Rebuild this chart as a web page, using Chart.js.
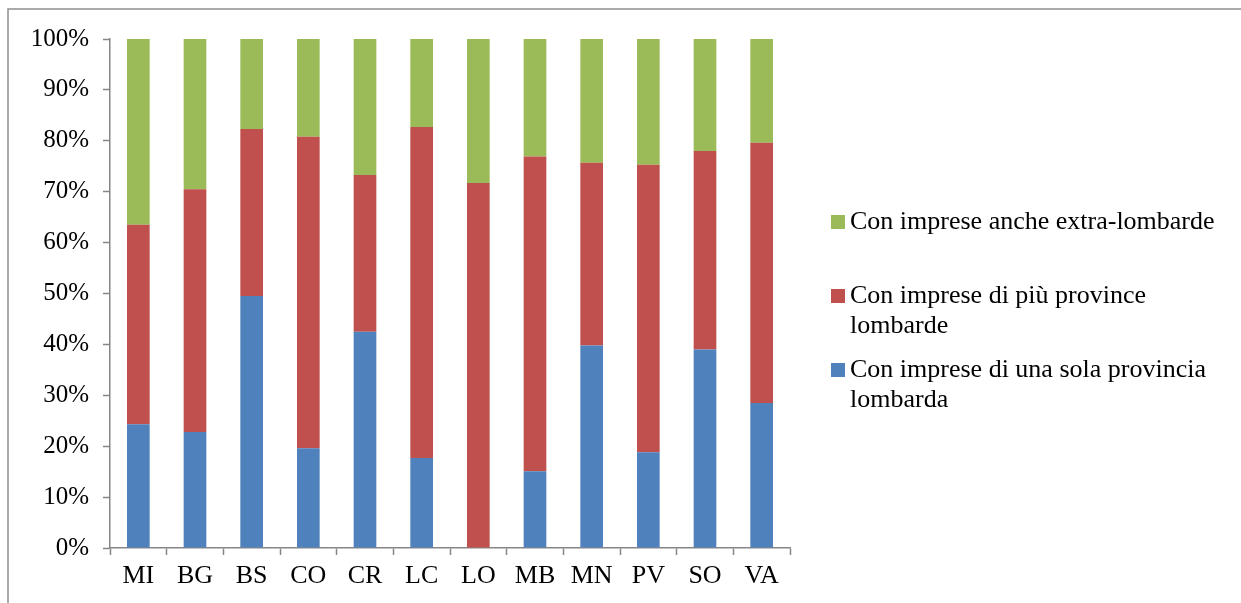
<!DOCTYPE html>
<html>
<head>
<meta charset="utf-8">
<script src="https://cdn.jsdelivr.net/npm/chart.js@4.4.1/dist/chart.umd.min.js"></script>
<style>
  html, body { margin: 0; padding: 0; background: #ffffff; }
  #wrap { width: 1241px; height: 603px; position: relative; }
</style>
</head>
<body>
<div id="wrap"><canvas id="chart" width="1241" height="603"></canvas></div>
<script>
// Province codes (x axis)
const province = ['MI', 'BG', 'BS', 'CO', 'CR', 'LC', 'LO', 'MB', 'MN', 'PV', 'SO', 'VA'];

// Shares (%) of each group, stacked bottom to top
const unaSola   = [24.3, 22.8, 49.5, 19.6, 42.5, 17.7, 0.0, 15.1, 39.8, 18.8, 39.0, 28.5];
const piuProv   = [39.2, 47.7, 32.8, 61.2, 30.8, 65.0, 71.7, 61.8, 35.9, 56.5, 39.0, 51.1];
const extraLomb = [36.5, 29.5, 17.7, 19.2, 26.7, 17.3, 28.3, 23.1, 24.3, 24.7, 22.0, 20.4];

// Legend text, split into the lines it is printed on
const labelUnaSola   = ['Con imprese di una sola provincia', 'lombarda'];
const labelPiuProv   = ['Con imprese di più province', 'lombarde'];
const labelExtraLomb = ['Con imprese anche extra-lombarde'];

// Y axis tick values
const yTicks = [0, 10, 20, 30, 40, 50, 60, 70, 80, 90, 100];

const FONT = '"Liberation Serif", "Times New Roman", serif';
const AXIS = '#868686';

// Frame around the whole chart (top and left edges are visible)
const framePlugin = {
  id: 'frame',
  beforeDraw(chart) {
    const ctx = chart.ctx;
    ctx.save();
    ctx.strokeStyle = '#8e8e8e';
    ctx.lineWidth = 1.5;
    ctx.beginPath();
    ctx.moveTo(8, 603);
    ctx.lineTo(8, 9);
    ctx.lineTo(1241, 9);
    ctx.stroke();
    ctx.restore();
  }
};

// Legend on the right, with wrapped entries, top entry = top series
const sideLegend = {
  id: 'sideLegend',
  afterDraw(chart) {
    const ctx = chart.ctx;
    const sets = chart.data.datasets.slice().reverse();
    ctx.save();
    ctx.font = '26px ' + FONT;
    ctx.textBaseline = 'middle';
    ctx.textAlign = 'left';
    let y = 222;
    sets.forEach(ds => {
      ctx.fillStyle = ds.backgroundColor;
      ctx.fillRect(831, y - 7, 14, 14);
      ctx.fillStyle = '#000000';
      ds.lines.forEach((line, i) => {
        ctx.fillText(line, 850, y + i * 30.5);
      });
      y += 74;
    });
    ctx.restore();
  }
};

new Chart(document.getElementById('chart'), {
  type: 'bar',
  data: {
    labels: province,
    datasets: [
      { label: labelUnaSola.join(' '),   lines: labelUnaSola,   data: unaSola,   backgroundColor: '#4F81BD' },
      { label: labelPiuProv.join(' '),   lines: labelPiuProv,   data: piuProv,   backgroundColor: '#C0504D' },
      { label: labelExtraLomb.join(' '), lines: labelExtraLomb, data: extraLomb, backgroundColor: '#9BBB59' }
    ]
  },
  options: {
    responsive: false,
    animation: false,
    devicePixelRatio: 1,
    barPercentage: 0.4,
    categoryPercentage: 1.0,
    layout: { padding: { left: 0, right: 451, top: 39, bottom: 0 } },
    plugins: {
      legend: { display: false },
      tooltip: { enabled: false }
    },
    scales: {
      x: {
        stacked: true,
        grid: {
          display: true,
          offset: true,
          drawOnChartArea: false,
          drawTicks: true,
          tickLength: 7,
          tickWidth: 1.5,
          tickColor: AXIS
        },
        border: { display: true, color: AXIS, width: 1.5 },
        ticks: {
          color: '#000000',
          font: { family: FONT, size: 26 },
          padding: 6,
          maxRotation: 0,
          autoSkip: false
        },
        afterFit(scale) { scale.height = 55; }
      },
      y: {
        stacked: true,
        min: 0,
        max: 100,
        afterBuildTicks(scale) { scale.ticks = yTicks.map(v => ({ value: v })); },
        grid: {
          display: true,
          drawOnChartArea: false,
          drawTicks: true,
          tickLength: 7,
          tickWidth: 1.5,
          tickColor: AXIS
        },
        border: { display: true, color: AXIS, width: 1.5 },
        ticks: {
          color: '#000000',
          font: { family: FONT, size: 25 },
          padding: 14,
          callback: v => v + '%'
        },
        afterFit(scale) { scale.width = 110; }
      }
    }
  },
  plugins: [framePlugin, sideLegend]
});
</script>
</body>
</html>
